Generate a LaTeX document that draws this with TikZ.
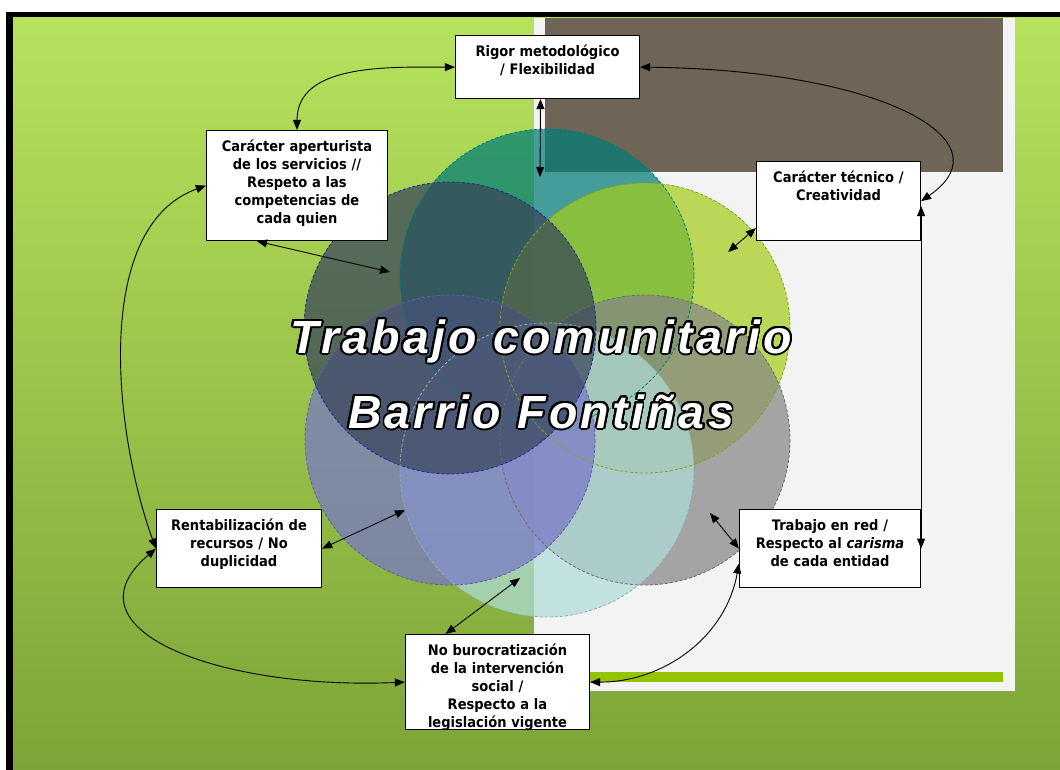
\documentclass[tikz,border=0pt]{standalone}
\usepackage{fontspec}
\setmainfont{DejaVu Sans Condensed}
\newfontfamily\titlefont[LetterSpace=7]{Liberation Sans}
\usepackage[copies]{contour}
\usepackage{xcolor}
\usetikzlibrary{arrows.meta}

\definecolor{greenlight}{RGB}{182,226,92}
\definecolor{greendark}{RGB}{124,164,56}
\definecolor{panelgrey}{RGB}{243,243,243}
\definecolor{panelbrown}{RGB}{110,101,87}
\definecolor{barlime}{RGB}{148,196,0}
\definecolor{ctop}{RGB}{1,125,117}
\definecolor{cul}{RGB}{55,68,90}
\definecolor{cur}{RGB}{165,205,28}
\definecolor{cll}{RGB}{119,119,199}
\definecolor{clr}{RGB}{134,134,134}
\definecolor{cbot}{RGB}{175,220,215}

\contourlength{1.8pt}
\contournumber{32}

\tikzset{
  petal/.style={fill=#1, fill opacity=0.72},
  rim/.style={draw=#1, densely dashed, line width=0.8pt},
  infobox/.style={draw=black, fill=white, line width=1.2pt, align=center, inner sep=3pt,
    anchor=north, text height=18, font=\bfseries\fontsize{14.5}{18}\selectfont},
  titletext/.style={text=white, align=center, inner sep=0pt,
    font=\titlefont\bfseries\itshape\fontsize{46.5}{75}\selectfont},
  link/.style={<->, >={Triangle[length=10pt,width=8pt]}, line width=0.9pt}
}

\begin{document}
\begin{tikzpicture}[x=1pt,y=-1pt]
    \useasboundingbox (0,0) rectangle (1060,770);
    \fill[white] (0,0) rectangle (1060,770);

    % background and panels
    \fill[black] (6,12) rectangle (1060,770);
    \shade[top color=greenlight, bottom color=greendark] (13,18) rectangle (1060,770);
    \fill[panelgrey] (534,18) rectangle (1015,691);
    \fill[panelbrown] (545,18) rectangle (1003,172);
    \fill[barlime] (590,672) rectangle (1003,682);

    % six circles
    \fill[petal=ctop] (547,276) circle (147);
    \fill[petal=cur] (645,328) circle (145);
    \fill[petal=clr] (645,440) circle (145);
    \fill[petal=cbot] (547,470) circle (147);
    \fill[petal=cll] (450,440) circle (145);
    \fill[petal=cul] (450,328) circle (146);
    \draw[rim=ctop] (547,276) circle (147);
    \draw[rim=cur!80!black] (645,328) circle (145);
    \draw[rim=clr!80!black] (645,440) circle (145);
    \draw[rim=cbot!80!black] (547,470) circle (147);
    \draw[rim=cll!80!black] (450,440) circle (145);
    \draw[rim=cul!60!blue] (450,328) circle (146);

    \node[titletext] (title) at (541,375)
        {\contour{black}{Trabajo comunitario}\\\contour{black}{Barrio Fontiñas}};

    % boxes
    \node[infobox, text width=178, text depth=39] (rigor) at (547.5,35)
        {Rigor metodológico\\/ Flexibilidad};
    \node[infobox, text width=175, text depth=86] (aper) at (297,130)
        {Carácter aperturista\\de los servicios //\\Respeto a las\\competencias de\\cada quien};
    \node[infobox, text width=158, text depth=55] (tecnico) at (838.5,161)
        {Carácter técnico /\\Creatividad};
    \node[infobox, text width=159, text depth=54] (rentab) at (239,509)
        {Rentabilización de\\recursos / No\\duplicidad};
    \node[infobox, text width=175, text depth=54] (red) at (830,509)
        {Trabajo en red /\\Respecto al \textit{carisma}\\de cada entidad};
    \node[infobox, text width=178, text depth=71] (buro) at (497.5,634)
        {No burocratización\\de la intervención\\social /\\Respecto a la\\legislación vigente};

    % free ends inside the circles
    \coordinate (topend) at (540,177);
    \coordinate (ulend) at (390,272);
    \coordinate (urend) at (728,252);
    \coordinate (llend) at (405,510);
    \coordinate (lrend) at (710,513);
    \coordinate (botend) at (520,578);

    % links between boxes
    \draw[link] (aper.north) to[out=90,in=180] (rigor.west);
    \draw[link] (rigor.east) .. controls (880,70) and (1010,140) .. (tecnico.east);
    \draw[link] (aper.west) to[out=200,in=110,looseness=0.85] (rentab.west);
    \draw[link] (buro.west) .. controls (220,690) and (60,630) .. (rentab.west);
    \draw[link] (buro.east) to[out=0,in=260] ([yshift=-15pt]red.west);
    \draw[link] ([yshift=-5pt]tecnico.east) -- (red.east);

    % links into the circles
    \draw[link] ([xshift=-7pt]rigor.south) -- (topend);
    \draw[link] ([xshift=-40pt]aper.south) -- (ulend);
    \draw[link] ([yshift=-27pt]tecnico.west) -- (urend);
    \draw[link] (rentab.east) -- (llend);
    \draw[link] (red.west) -- (lrend);
    \draw[link] ([xshift=-52pt]buro.north) -- (botend);
\end{tikzpicture}
\end{document}
